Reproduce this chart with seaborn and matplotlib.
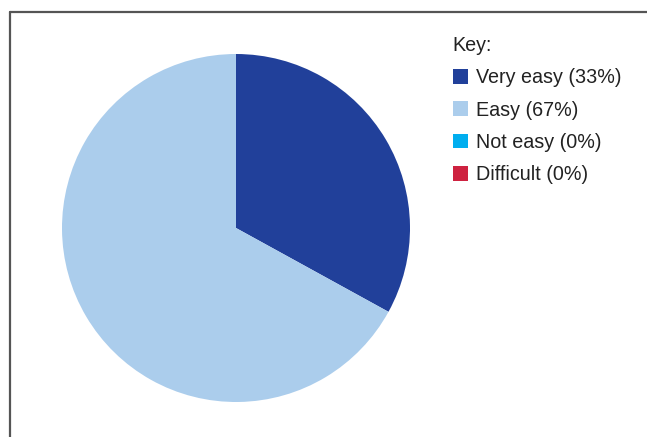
import matplotlib
matplotlib.use("Agg")
import matplotlib.pyplot as plt
import seaborn as sns
from matplotlib.patches import Patch
from matplotlib.lines import Line2D

categories = ["Very easy", "Easy", "Not easy", "Difficult"]
percentages = [33, 67, 0, 0]
colors = ["#21409A", "#ABCDEC", "#00AEEF", "#CE2240"]

sns.set_theme(style="white")
plt.rcParams["font.family"] = ["Liberation Sans", "DejaVu Sans"]

W, H = 647, 437
fig = plt.figure(figsize=(W / 100, H / 100), dpi=100)
fig.patch.set_facecolor("white")

# pie axes: center (236,228), radius ~174
cx, cy, r = 236, 228, 174
ax = fig.add_axes([(cx - r) / W, 1 - (cy + r) / H, 2 * r / W, 2 * r / H])
ax.pie(percentages, colors=colors, startangle=90, counterclock=False,
       wedgeprops=dict(linewidth=0))
ax.set_aspect("equal")
ax.set_xlim(-1, 1)
ax.set_ylim(-1, 1)
ax.axis("off")

# frame lines
fig.add_artist(Line2D([9.5 / W, 1], [1 - 12 / H, 1 - 12 / H], color="#555555", lw=1.6,
                      transform=fig.transFigure))
fig.add_artist(Line2D([9.5 / W, 9.5 / W], [0, 1 - 12 / H], color="#555555", lw=1.6,
                      transform=fig.transFigure))

handles = [Patch(facecolor=c, edgecolor="none", label=f"{cat} ({p}%)")
           for cat, p, c in zip(categories, percentages, colors)]
leg = fig.legend(handles=handles, title="Key:", loc="upper left",
                 bbox_to_anchor=(435 / W, 1 - 18 / H), frameon=False,
                 fontsize=14.2, title_fontsize=14.2, handlelength=0.75,
                 handleheight=0.75, handletextpad=0.45, labelspacing=0.68,
                 alignment="left")
for t in leg.get_texts():
    t.set_color("#222222")
leg.get_title().set_color("#222222")

fig.savefig("out.png", dpi=100, facecolor="white")
